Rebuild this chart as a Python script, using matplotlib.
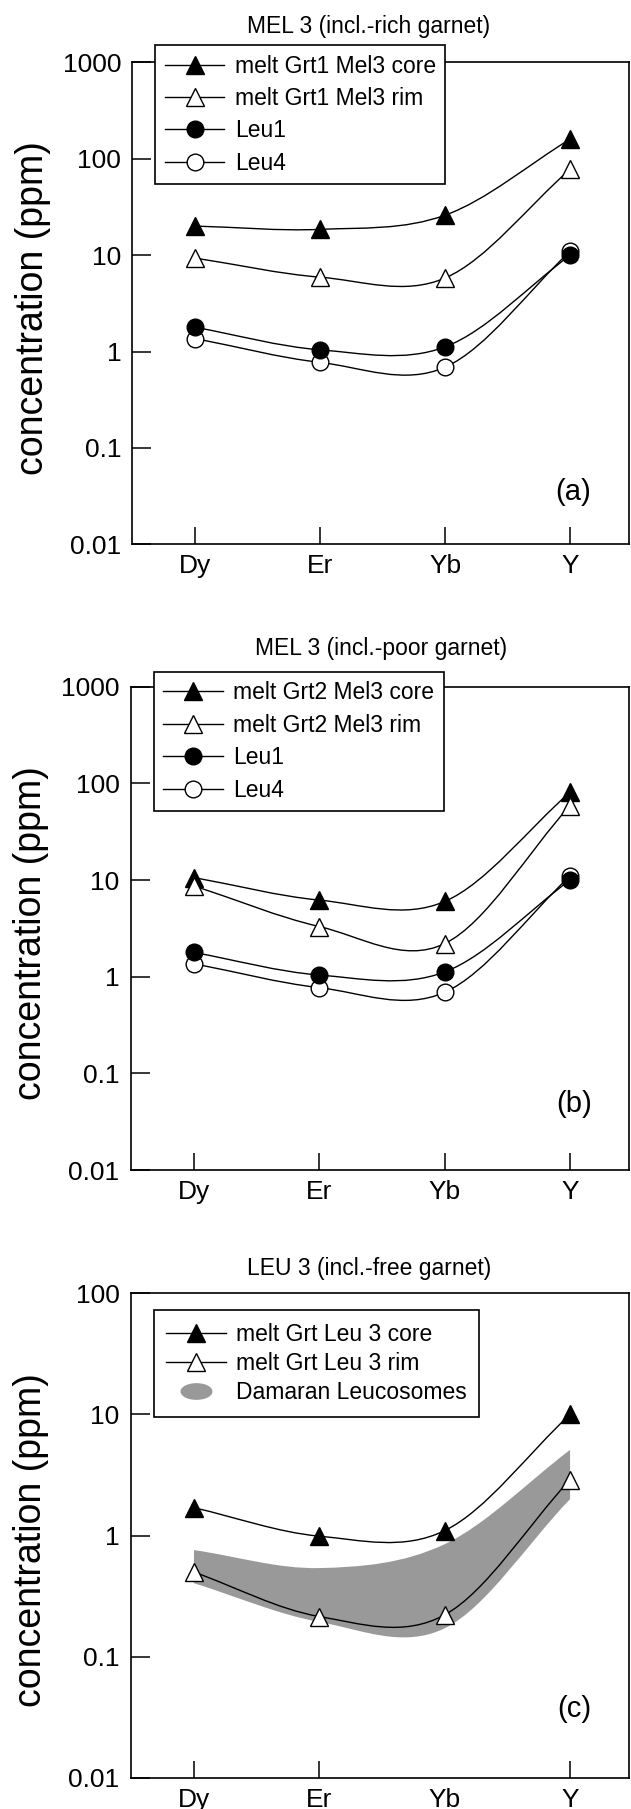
import numpy as np
import matplotlib
matplotlib.use('Agg')
import matplotlib.pyplot as plt
from matplotlib.path import Path
from matplotlib.patches import PathPatch
from matplotlib.lines import Line2D

plt.rcParams['font.family'] = ['Liberation Sans', 'DejaVu Sans']

# element order on the x axis
elements = ['Dy', 'Er', 'Yb', 'Y']
ypos = [1, 2, 3, 4]

# panel (a) MEL 3, incl.-rich garnet
a_core = [20, 18.5, 26, 160]
a_rim = [9.3, 5.9, 5.8, 78]
# panel (b) MEL 3, incl.-poor garnet
b_core = [10.6, 6.2, 6.0, 81]
b_rim = [8.7, 3.3, 2.2, 59]
# leucosomes shown in (a) and (b)
leu1 = [1.78, 1.04, 1.12, 10]
leu4 = [1.36, 0.77, 0.69, 11]
# panel (c) LEU 3, incl.-free garnet
c_core = [1.70, 0.99, 1.10, 10]
c_rim = [0.50, 0.215, 0.222, 2.9]
band_upper = [0.76, 0.54, 0.85, 5.1]
band_lower = [0.405, 0.194, 0.172, 2.0]

decade_ticks = [0.01, 0.1, 1, 10, 100, 1000]
decade_labels = ['0.01', '0.1', '1', '10', '100', '1000']


def smooth_verts(x, y):
    # Catmull-Rom style bezier through the points, in log space
    x = np.asarray(x, float)
    ly = np.log10(np.asarray(y, float))
    n = len(x)
    m = np.empty(n)
    m[0] = (ly[1] - ly[0]) / (x[1] - x[0])
    m[-1] = (ly[-1] - ly[-2]) / (x[-1] - x[-2])
    for i in range(1, n - 1):
        m[i] = (ly[i + 1] - ly[i - 1]) / (x[i + 1] - x[i - 1])
    verts = [(x[0], 10 ** ly[0])]
    for i in range(n - 1):
        h = x[i + 1] - x[i]
        verts.append((x[i] + h / 3, 10 ** (ly[i] + m[i] * h / 3)))
        verts.append((x[i + 1] - h / 3, 10 ** (ly[i + 1] - m[i + 1] * h / 3)))
        verts.append((x[i + 1], 10 ** ly[i + 1]))
    return verts


def smooth_line(ax, y):
    verts = smooth_verts(ypos, y)
    codes = [Path.MOVETO] + [Path.CURVE4] * (len(verts) - 1)
    ax.add_patch(PathPatch(Path(verts, codes), fill=False, lw=1.0,
                           edgecolor='black', zorder=2))


def series(ax, y, marker, filled, ms, z=3):
    smooth_line(ax, y)
    ax.plot(ypos, y, linestyle='none', marker=marker, markersize=ms,
            markerfacecolor='black' if filled else 'white',
            markeredgecolor='black', markeredgewidth=1.0, zorder=z)


def handle(marker, filled, ms):
    return Line2D([], [], color='black', lw=1.0, marker=marker, markersize=ms,
                  markerfacecolor='black' if filled else 'white',
                  markeredgecolor='black', markeredgewidth=1.0)


def style_axes(ax, ymin, ymax):
    ax.set_yscale('log')
    ax.set_xlim(0.495, 4.47)
    ax.set_ylim(ymin, ymax)
    t = [v for v in decade_ticks if ymin <= v <= ymax]
    lab = [decade_labels[decade_ticks.index(v)] for v in t]
    ax.set_yticks(t, lab)
    ax.yaxis.set_minor_locator(matplotlib.ticker.NullLocator())
    ax.set_xticks(ypos, elements)
    ax.tick_params(axis='y', direction='in', length=14, width=1.1,
                   labelsize=19, pad=8)
    ax.tick_params(axis='x', direction='in', length=12, width=1.1,
                   labelsize=19, pad=7)
    for s in ax.spines.values():
        s.set_linewidth(1.2)
    ax.set_ylabel('concentration (ppm)', fontsize=27)
    ax.yaxis.set_label_coords(-0.163, 0.49)


def add_legend(ax, handles, labels, y_top, bp, ls):
    leg = ax.legend(handles, labels, loc='upper left',
                    bbox_to_anchor=(0.046, y_top), borderaxespad=0,
                    fontsize=16.5, handlelength=2.6, handletextpad=0.45,
                    borderpad=bp, labelspacing=ls, fancybox=False,
                    framealpha=1, edgecolor='black')
    leg.get_frame().set_linewidth(1.2)
    leg.set_zorder(10)


fig = plt.figure(figsize=(6.31, 18.09), dpi=100)

# ---- (a)
ax1 = fig.add_axes([0.2097, 0.69911, 0.7872, 0.26645])
style_axes(ax1, 0.01, 1000)
series(ax1, a_core, '^', True, 13)
series(ax1, a_rim, '^', False, 13)
series(ax1, leu4, 'o', False, 12, z=3)
series(ax1, leu1, 'o', True, 12, z=4)
ax1.set_title('MEL 3 (incl.-rich garnet)', fontsize=16.5, x=0.475, pad=21)
ax1.text(0.887, 0.109, '(a)', transform=ax1.transAxes, fontsize=21,
         ha='center', va='center')
add_legend(ax1, [handle('^', True, 13), handle('^', False, 13),
                 handle('o', True, 12), handle('o', False, 12)],
           ['melt Grt1 Mel3 core', 'melt Grt1 Mel3 rim', 'Leu1', 'Leu4'],
           1.036, 0.42, 0.41)

# ---- (b)
ax2 = fig.add_axes([0.2071, 0.35323, 0.7897, 0.26716])
style_axes(ax2, 0.01, 1000)
series(ax2, b_core, '^', True, 13)
series(ax2, b_rim, '^', False, 13)
series(ax2, leu4, 'o', False, 12, z=3)
series(ax2, leu1, 'o', True, 12, z=4)
ax2.set_title('MEL 3 (incl.-poor garnet)', fontsize=16.5, x=0.502, pad=23)
ax2.text(0.89, 0.137, '(b)', transform=ax2.transAxes, fontsize=21,
         ha='center', va='center')
add_legend(ax2, [handle('^', True, 13), handle('^', False, 13),
                 handle('o', True, 12), handle('o', False, 12)],
           ['melt Grt2 Mel3 core', 'melt Grt2 Mel3 rim', 'Leu1', 'Leu4'],
           1.031, 0.42, 0.41)

# ---- (c)
ax3 = fig.add_axes([0.2071, 0.01714, 0.7897, 0.26794])
style_axes(ax3, 0.01, 100)
ax3.xaxis.get_major_ticks()[2].tick1line.set_visible(False)

up = smooth_verts(ypos, band_upper)
lo = smooth_verts(ypos, band_lower)[::-1]
band_verts = up + lo + [up[0]]
band_codes = ([Path.MOVETO] + [Path.CURVE4] * (len(up) - 1) + [Path.LINETO]
              + [Path.CURVE4] * (len(lo) - 1) + [Path.CLOSEPOLY])
ax3.add_patch(PathPatch(Path(band_verts, band_codes), facecolor='#999999',
                        edgecolor='none', zorder=1))
series(ax3, c_core, '^', True, 13)
series(ax3, c_rim, '^', False, 13)
ax3.set_title('LEU 3 (incl.-free garnet)', fontsize=16.5, x=0.478, pad=13.5)
ax3.text(0.89, 0.142, '(c)', transform=ax3.transAxes, fontsize=21,
         ha='center', va='center')

ellipse = Path(np.column_stack([np.cos(np.linspace(0, 2 * np.pi, 60)),
                                0.5 * np.sin(np.linspace(0, 2 * np.pi, 60))]))
band_handle = Line2D([], [], linestyle='none', marker=ellipse, markersize=22,
                     markerfacecolor='#999999', markeredgecolor='#999999')
add_legend(ax3, [handle('^', True, 13), handle('^', False, 13), band_handle],
           ['melt Grt Leu 3 core', 'melt Grt Leu 3 rim', 'Damaran Leucosomes'],
           0.9655, 0.55, 0.28)

fig.savefig('out.png', dpi=100)
